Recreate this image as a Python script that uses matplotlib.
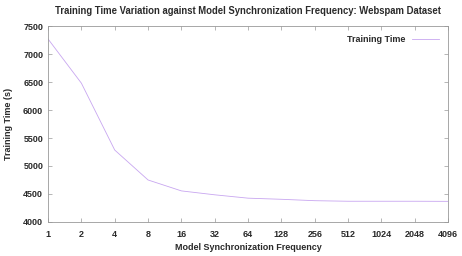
import numpy as np
import matplotlib.pyplot as plt

# sync frequency vs training time (s)
freq = [1, 2, 4, 8, 16, 32, 64, 128, 256, 512, 1024, 2048, 4096]
train_time = [7270, 6480, 5285, 4750, 4555, 4485, 4425, 4405, 4380, 4370, 4370, 4370, 4368]
y_ticks = [4000, 4500, 5000, 5500, 6000, 6500, 7000, 7500]

plt.rcParams['font.family'] = ['Liberation Sans', 'DejaVu Sans']
plt.rcParams['font.weight'] = 'bold'
plt.rcParams['font.size'] = 6.5

fig = plt.figure(figsize=(4.62, 2.56), dpi=100)
ax = fig.add_axes([0.104, 0.133, 0.866, 0.765])

ax.plot(freq, train_time, color='#c8a6f0', lw=0.6, label='Training Time')

ax.set_xscale('log', base=2)
ax.set_xlim(1, 4096)
ax.set_xticks(freq)
ax.set_xticklabels([str(f) for f in freq])
ax.minorticks_off()
ax.set_ylim(4000, 7500)
ax.set_yticks(y_ticks)

ax.tick_params(direction='in', top=True, right=True, length=3, width=0.5,
               color='#999999', labelcolor='#2a2a2a')
ax.tick_params(axis='x', pad=5.5)
ax.tick_params(axis='y', pad=3.5)
for s in ax.spines.values():
    s.set_linewidth(0.6)
    s.set_color('#999999')

ax.set_xlabel('Model Synchronization Frequency', fontweight='bold', labelpad=3,
              color='#2a2a2a')
ax.set_ylabel('Training Time (s)', fontweight='bold', labelpad=7, color='#2a2a2a')
ax.set_title('Training Time Variation against Model Synchronization Frequency: Webspam Dataset',
             fontweight='bold', fontsize=6.85, pad=9, color='#2a2a2a')

leg = ax.legend(loc='upper right', frameon=False, handlelength=3.0, borderaxespad=0.6,
                markerfirst=False, handletextpad=0.7)
for t in leg.get_texts():
    t.set_color('#2a2a2a')

fig.savefig('out.png', dpi=100)
